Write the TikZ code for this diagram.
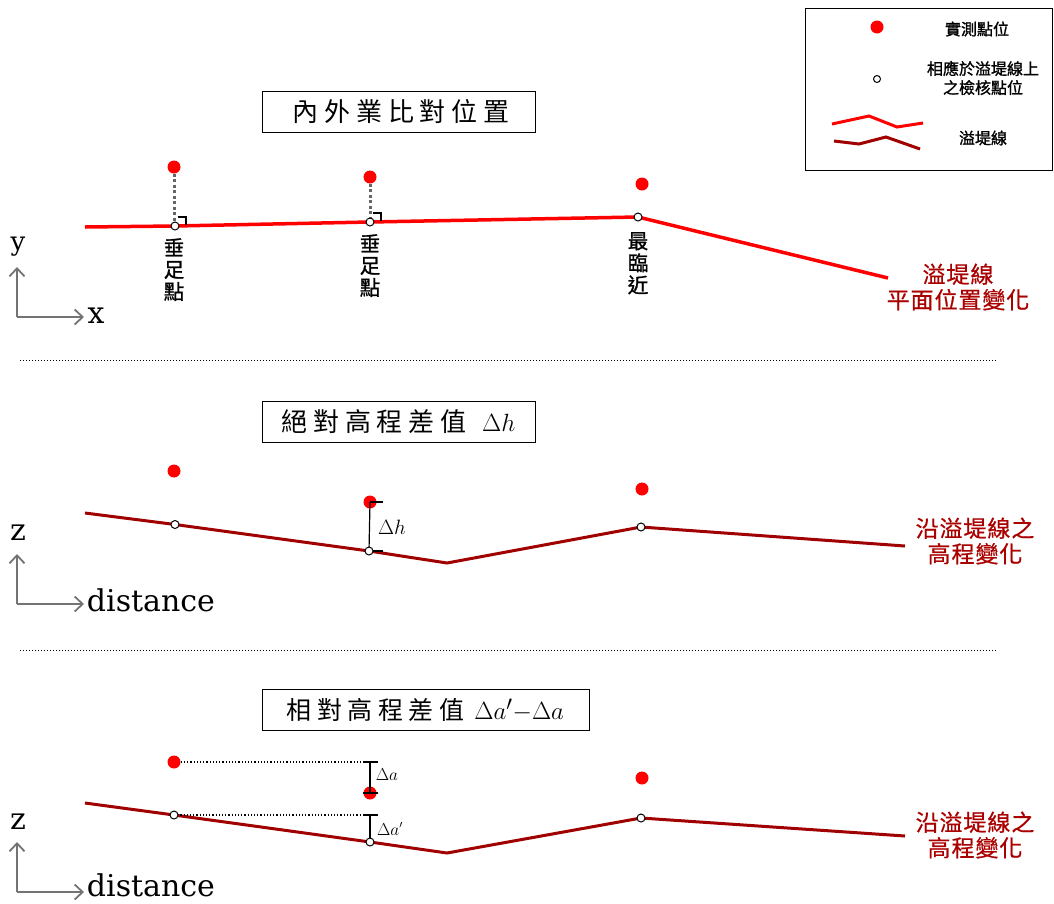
\documentclass[tikz,border=0pt]{standalone}
\usepackage{fontspec}
\setmainfont{DejaVu Serif}
\newfontfamily\cjk{Noto Sans CJK TC}
\newfontfamily\cjkt{Noto Sans CJK TC}[LetterSpace=22]
\newfontfamily\cjkb{Noto Sans CJK TC}[FakeBold=1.2]
\newfontfamily\cjkm{Noto Sans CJK TC}[FakeBold=0.6,LetterSpace=4]
\usetikzlibrary{arrows.meta}
\definecolor{dike}{RGB}{160,0,0}
\definecolor{lbl}{RGB}{170,0,0}
\begin{document}
\begin{tikzpicture}[x=1pt,y=-1pt,
  meas/.style={circle,fill=red,inner sep=0pt,minimum size=13pt},
  chk/.style={circle,draw=black,fill=white,inner sep=0pt,minimum size=8pt,line width=1pt},
  planline/.style={red,line width=3.5pt},
  dikeline/.style={dike,line width=3pt},
  perp/.style={draw=black!60,line width=3pt,dash pattern=on 3pt off 2.5pt},
  titlebox/.style={draw,line width=1pt,inner sep=0pt,minimum height=41pt,font=\cjkt\fontsize{26}{30}\selectfont},
  vlab/.style={font=\cjkb\fontsize{20.5}{22}\selectfont,align=center,anchor=north,inner sep=0pt},
  redlab/.style={font=\cjkm\fontsize{23}{25.5}\selectfont,align=center,text=lbl},
  axis/.style={draw=black!55,line width=1.8pt},
  axarrow/.style={-{Straight Barb[length=8pt,width=15pt,line width=1.8pt]}},
  axlab/.style={font=\fontsize{30}{32}\selectfont,anchor=base},
  sep/.style={draw=black,line width=1pt,dotted},
  meter/.style={draw=black,line width=1.2pt},
  hdot/.style={draw=black,line width=1.2pt,dotted},
  leg/.style={font=\cjkb\fontsize{16}{19}\selectfont,align=center}
]
\useasboundingbox (0,0) rectangle (1054,903);

% ---------- legend ----------
\draw[line width=1pt] (805,8) rectangle (1052,170);
\node[meas] (lm) at (877,27) {};
\node[leg] (lmt) at (977,29) {實測點位};
\node[chk,minimum size=7pt] (lc) at (877,79) {};
\node[leg] (lct) at (983,78) {相應於溢堤線上\\之檢核點位};
\draw[planline,line width=3pt] (832,124) -- (869,116) -- (897,127) -- (923,123);
\draw[dikeline] (834,141) -- (859,144) -- (886,137) -- (920,149);
\node[leg] (llt) at (983,138) {溢堤線};

% ---------- panel 1 ----------
\node[titlebox,minimum width=273pt] (t1) at (398.5,111.5) {\hspace{5pt}內外業比對位置};
\coordinate (p0) at (85,227);
\coordinate (p4) at (888,278);
\node[meas] (m1) at (174,167) {};
\node[meas] (m2) at (370,177) {};
\node[meas] (m3) at (642,184) {};
\coordinate (c1p) at (175,226);
\coordinate (c2p) at (370,222);
\coordinate (c3p) at (638,217);
\draw[planline] (p0) -- (c1p) -- (c2p) -- (c3p) -- (p4);
\draw[perp] (m1) -- (174,222);
\draw[perp] (m2) -- (370,218);
\node[chk] (c1) at (c1p) {};
\node[chk] (c2) at (c2p) {};
\node[chk] (c3) at (c3p) {};
\draw[line width=1.2pt] ([shift={(3,-9)}]c1.center) -- ++(8,0) -- ++(0,8);
\draw[line width=1.2pt] ([shift={(3,-9)}]c2.center) -- ++(8,0) -- ++(0,8);
\node[vlab] (v1) at (174,238) {垂\\足\\點};
\node[vlab] (v2) at (370,234) {垂\\足\\點};
\node[vlab] (v3) at (638,232) {最\\臨\\近};
\node[redlab] (r1) at (958,287) {溢堤線\\平面位置變化};
\coordinate (o1) at (17,317);
\draw[axis,axarrow] (o1) -- ++(0,-50);
\draw[axis,axarrow] (o1) -- ++(67,0);
\node[axlab,font=\fontsize{26}{28}\selectfont] (ly) at (18,250) {y};
\node[axlab] (lx) at (96,323) {x};

\draw[sep] (20,360) -- (997,360);

% ---------- panel 2 ----------
\node[titlebox,minimum width=273pt] (t2) at (398.5,421.5) {絕對高程差值\hspace{16pt}$\Delta h$};
\coordinate (q0) at (85,513);
\coordinate (q1) at (175,524.5);
\coordinate (q2) at (369,551);
\coordinate (q3) at (447,563);
\coordinate (q4) at (641,527);
\coordinate (q5) at (905,546);
\draw[dikeline] (q0) -- (q1) -- (q2) -- (q3) -- (q4) -- (q5);
\node[meas] (n1) at (174,471) {};
\node[meas] (n2) at (370,502) {};
\node[meas] (n3) at (642,489) {};
\draw[meter] (n2.center) -- (q2);
\draw[meter] (n2.center) -- ++(13,0);
\draw[meter] (q2) -- ++(14,0);
\node[chk] (d1) at (q1) {};
\node[chk] (d2) at (q2) {};
\node[chk] (d3) at (q4) {};
\node[font=\fontsize{20}{22}\selectfont] (dh) at (392,527) {$\Delta h$};
\node[redlab] (r2) at (975,541) {沿溢堤線之\\高程變化};
\coordinate (o2) at (17,604);
\draw[axis,axarrow] (o2) -- ++(0,-50);
\draw[axis,axarrow] (o2) -- ++(67,0);
\node[axlab] (lz) at (18,540) {z};
\node[axlab] (ld) at (151,611) {distance};

\draw[sep] (20,650) -- (997,650);

% ---------- panel 3 ----------
\node[titlebox,minimum width=327pt,font=\cjkt\fontsize{25}{30}\selectfont] (t3) at (425.5,710) {相對高程差值\hspace{10pt}\fontsize{28}{30}\selectfont$\Delta a'{-}\Delta a$};
\coordinate (s0) at (85,803);
\coordinate (s1) at (174,815);
\coordinate (s2) at (370,842);
\coordinate (s3) at (447,853);
\coordinate (s4) at (641,818);
\coordinate (s5) at (905,836);
\draw[dikeline] (s0) -- (s1) -- (s2) -- (s3) -- (s4) -- (s5);
\node[meas] (k1) at (174,762) {};
\node[meas] (k2) at (370,793) {};
\node[meas] (k3) at (642,778) {};
\coordinate (ta) at (370,762);
\coordinate (tb) at (370,815);
\draw[hdot] (k1) -- (ta);
\draw[hdot] (s1) -- (tb);
\draw[meter] (ta) -- (k2.center);
\draw[meter] ([xshift=-7pt]ta) -- ++(15,0);
\draw[meter] ([xshift=-7pt]k2.center) -- ++(15,0);
\draw[meter] (tb) -- (s2);
\draw[meter] ([xshift=-7pt]tb) -- ++(15,0);
\node[chk] (e1) at (s1) {};
\node[chk] (e2) at (s2) {};
\node[chk] (e3) at (s4) {};
\node[font=\fontsize{16}{18}\selectfont] (da) at (387,775) {$\Delta a$};
\node[font=\fontsize{16}{18}\selectfont] (dap) at (390,829) {$\Delta a'$};
\node[redlab] (r3) at (975,835) {沿溢堤線之\\高程變化};
\coordinate (o3) at (17,892);
\draw[axis,axarrow] (o3) -- ++(0,-50);
\draw[axis,axarrow] (o3) -- ++(67,0);
\node[axlab] (lz2) at (18,829) {z};
\node[axlab] (ld2) at (151,896) {distance};
\end{tikzpicture}
\end{document}
